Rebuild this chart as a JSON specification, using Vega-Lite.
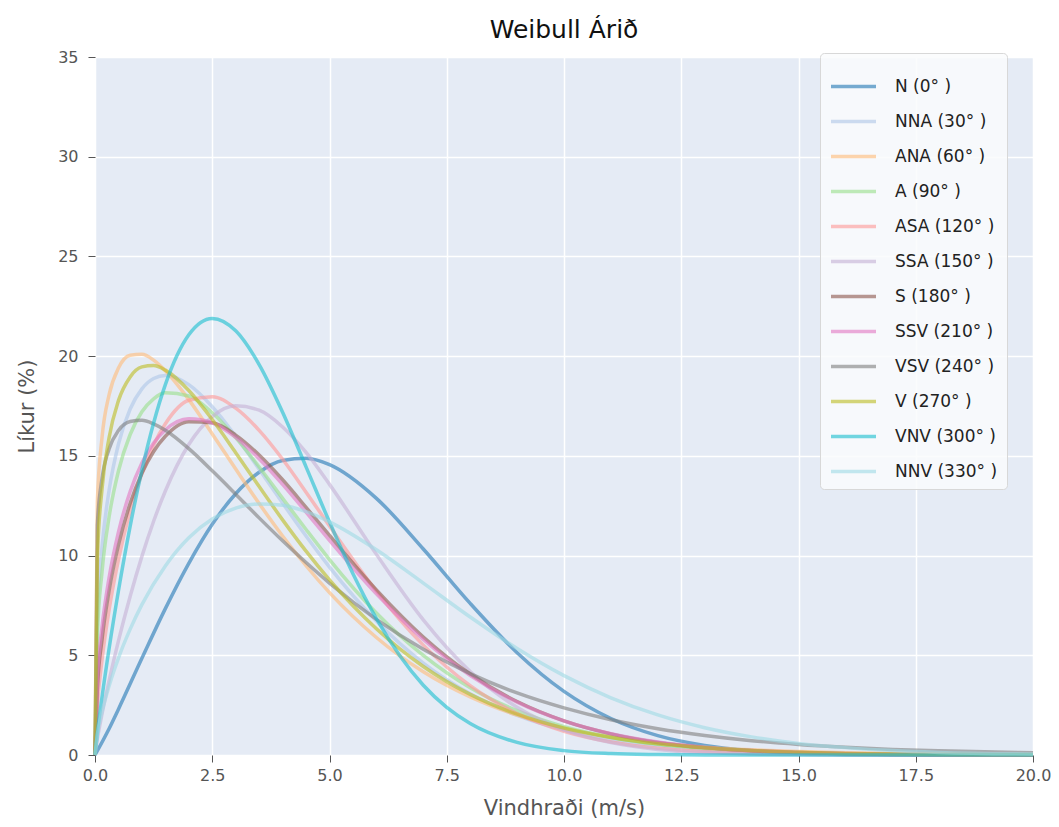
{
  "$schema": "https://vega.github.io/schema/vega-lite/v6.json",
  "width": 938,
  "height": 698,
  "autosize": {"type": "none"},
  "padding": {"left": 95, "top": 57, "right": 26, "bottom": 72},
  "background": "white",
  "title": {"text": "Weibull Árið", "fontSize": 25, "font": "DejaVu Sans", "fontWeight": "normal", "color": "#111", "anchor": "middle", "offset": 6},
  "data": {"values": [
    {"d":"N (0° )","x":0,"y":0},{"d":"N (0° )","x":0.3,"y":1.32},{"d":"N (0° )","x":0.5,"y":2.30},{"d":"N (0° )","x":1,"y":4.85},{"d":"N (0° )","x":1.5,"y":7.34},{"d":"N (0° )","x":2,"y":9.61},{"d":"N (0° )","x":2.5,"y":11.57},{"d":"N (0° )","x":3,"y":13.10},{"d":"N (0° )","x":3.5,"y":14.18},{"d":"N (0° )","x":4,"y":14.77},{"d":"N (0° )","x":4.5,"y":14.88},{"d":"N (0° )","x":5,"y":14.56},{"d":"N (0° )","x":6,"y":12.87},{"d":"N (0° )","x":7,"y":10.33},{"d":"N (0° )","x":8,"y":7.60},{"d":"N (0° )","x":9,"y":5.13},{"d":"N (0° )","x":10,"y":3.19},{"d":"N (0° )","x":11,"y":1.83},{"d":"N (0° )","x":12,"y":0.97},{"d":"N (0° )","x":13,"y":0.48},{"d":"N (0° )","x":14,"y":0.22},{"d":"N (0° )","x":15,"y":0.09},{"d":"N (0° )","x":16,"y":0.03},{"d":"N (0° )","x":18,"y":0.0},{"d":"N (0° )","x":20,"y":0.0},
    {"d":"NNA (30° )","x":0,"y":0},{"d":"NNA (30° )","x":0.05,"y":6.96},{"d":"NNA (30° )","x":0.15,"y":10.42},{"d":"NNA (30° )","x":0.3,"y":13.26},{"d":"NNA (30° )","x":0.5,"y":15.59},{"d":"NNA (30° )","x":0.75,"y":17.35},{"d":"NNA (30° )","x":1,"y":18.36},{"d":"NNA (30° )","x":1.25,"y":18.88},{"d":"NNA (30° )","x":1.5,"y":19.03},{"d":"NNA (30° )","x":2,"y":18.57},{"d":"NNA (30° )","x":2.5,"y":17.46},{"d":"NNA (30° )","x":3,"y":15.98},{"d":"NNA (30° )","x":3.5,"y":14.33},{"d":"NNA (30° )","x":4,"y":12.63},{"d":"NNA (30° )","x":4.5,"y":10.98},{"d":"NNA (30° )","x":5,"y":9.42},{"d":"NNA (30° )","x":6,"y":6.72},{"d":"NNA (30° )","x":7,"y":4.61},{"d":"NNA (30° )","x":8,"y":3.07},{"d":"NNA (30° )","x":9,"y":1.99},{"d":"NNA (30° )","x":10,"y":1.26},{"d":"NNA (30° )","x":11,"y":0.78},{"d":"NNA (30° )","x":12,"y":0.47},{"d":"NNA (30° )","x":13,"y":0.28},{"d":"NNA (30° )","x":14,"y":0.16},{"d":"NNA (30° )","x":15,"y":0.09},{"d":"NNA (30° )","x":16,"y":0.05},{"d":"NNA (30° )","x":17,"y":0.03},{"d":"NNA (30° )","x":18,"y":0.015},{"d":"NNA (30° )","x":20,"y":0.005},
    {"d":"ANA (60° )","x":0,"y":0},{"d":"ANA (60° )","x":0.05,"y":12.70},{"d":"ANA (60° )","x":0.15,"y":15.93},{"d":"ANA (60° )","x":0.3,"y":18.06},{"d":"ANA (60° )","x":0.5,"y":19.40},{"d":"ANA (60° )","x":0.75,"y":20.04},{"d":"ANA (60° )","x":1,"y":20.09},{"d":"ANA (60° )","x":1.25,"y":19.80},{"d":"ANA (60° )","x":1.5,"y":19.27},{"d":"ANA (60° )","x":2,"y":17.82},{"d":"ANA (60° )","x":2.5,"y":16.10},{"d":"ANA (60° )","x":3,"y":14.34},{"d":"ANA (60° )","x":3.5,"y":12.61},{"d":"ANA (60° )","x":4,"y":10.98},{"d":"ANA (60° )","x":4.5,"y":9.49},{"d":"ANA (60° )","x":5,"y":8.14},{"d":"ANA (60° )","x":6,"y":5.89},{"d":"ANA (60° )","x":7,"y":4.17},{"d":"ANA (60° )","x":8,"y":2.91},{"d":"ANA (60° )","x":9,"y":2.00},{"d":"ANA (60° )","x":10,"y":1.36},{"d":"ANA (60° )","x":11,"y":0.91},{"d":"ANA (60° )","x":12,"y":0.60},{"d":"ANA (60° )","x":13,"y":0.39},{"d":"ANA (60° )","x":14,"y":0.26},{"d":"ANA (60° )","x":15,"y":0.17},{"d":"ANA (60° )","x":16,"y":0.11},{"d":"ANA (60° )","x":17,"y":0.07},{"d":"ANA (60° )","x":18,"y":0.04},{"d":"ANA (60° )","x":20,"y":0.02},
    {"d":"A (90° )","x":0,"y":0},{"d":"A (90° )","x":0.05,"y":5.97},{"d":"A (90° )","x":0.15,"y":9.19},{"d":"A (90° )","x":0.3,"y":11.93},{"d":"A (90° )","x":0.5,"y":14.24},{"d":"A (90° )","x":0.75,"y":16.07},{"d":"A (90° )","x":1,"y":17.21},{"d":"A (90° )","x":1.25,"y":17.86},{"d":"A (90° )","x":1.5,"y":18.16},{"d":"A (90° )","x":2,"y":18.00},{"d":"A (90° )","x":2.5,"y":17.16},{"d":"A (90° )","x":3,"y":15.91},{"d":"A (90° )","x":3.5,"y":14.44},{"d":"A (90° )","x":4,"y":12.87},{"d":"A (90° )","x":4.5,"y":11.31},{"d":"A (90° )","x":5,"y":9.80},{"d":"A (90° )","x":6,"y":7.12},{"d":"A (90° )","x":7,"y":4.99},{"d":"A (90° )","x":8,"y":3.37},{"d":"A (90° )","x":9,"y":2.22},{"d":"A (90° )","x":10,"y":1.42},{"d":"A (90° )","x":11,"y":0.89},{"d":"A (90° )","x":12,"y":0.54},{"d":"A (90° )","x":13,"y":0.33},{"d":"A (90° )","x":14,"y":0.19},{"d":"A (90° )","x":15,"y":0.11},{"d":"A (90° )","x":16,"y":0.06},{"d":"A (90° )","x":17,"y":0.035},{"d":"A (90° )","x":18,"y":0.02},{"d":"A (90° )","x":20,"y":0.005},
    {"d":"ASA (120° )","x":0,"y":0},{"d":"ASA (120° )","x":0.05,"y":2.42},{"d":"ASA (120° )","x":0.15,"y":4.77},{"d":"ASA (120° )","x":0.3,"y":7.27},{"d":"ASA (120° )","x":0.5,"y":9.80},{"d":"ASA (120° )","x":0.75,"y":12.24},{"d":"ASA (120° )","x":1,"y":14.12},{"d":"ASA (120° )","x":1.25,"y":15.55},{"d":"ASA (120° )","x":1.5,"y":16.61},{"d":"ASA (120° )","x":2,"y":17.79},{"d":"ASA (120° )","x":2.5,"y":17.97},{"d":"ASA (120° )","x":3,"y":17.39},{"d":"ASA (120° )","x":3.5,"y":16.28},{"d":"ASA (120° )","x":4,"y":14.83},{"d":"ASA (120° )","x":4.5,"y":13.18},{"d":"ASA (120° )","x":5,"y":11.48},{"d":"ASA (120° )","x":6,"y":8.22},{"d":"ASA (120° )","x":7,"y":5.51},{"d":"ASA (120° )","x":8,"y":3.48},{"d":"ASA (120° )","x":9,"y":2.08},{"d":"ASA (120° )","x":10,"y":1.19},{"d":"ASA (120° )","x":11,"y":0.65},{"d":"ASA (120° )","x":12,"y":0.34},{"d":"ASA (120° )","x":13,"y":0.17},{"d":"ASA (120° )","x":14,"y":0.08},{"d":"ASA (120° )","x":15,"y":0.04},{"d":"ASA (120° )","x":16,"y":0.02},{"d":"ASA (120° )","x":18,"y":0},{"d":"ASA (120° )","x":20,"y":0},
    {"d":"SSA (150° )","x":0,"y":0},{"d":"SSA (150° )","x":0.05,"y":0.80},{"d":"SSA (150° )","x":0.15,"y":2.06},{"d":"SSA (150° )","x":0.3,"y":3.72},{"d":"SSA (150° )","x":0.5,"y":5.72},{"d":"SSA (150° )","x":0.75,"y":7.96},{"d":"SSA (150° )","x":1,"y":9.96},{"d":"SSA (150° )","x":1.25,"y":11.72},{"d":"SSA (150° )","x":1.5,"y":13.24},{"d":"SSA (150° )","x":2,"y":15.57},{"d":"SSA (150° )","x":2.5,"y":16.97},{"d":"SSA (150° )","x":3,"y":17.51},{"d":"SSA (150° )","x":3.5,"y":17.29},{"d":"SSA (150° )","x":4,"y":16.45},{"d":"SSA (150° )","x":4.5,"y":15.17},{"d":"SSA (150° )","x":5,"y":13.57},{"d":"SSA (150° )","x":6,"y":10.06},{"d":"SSA (150° )","x":7,"y":6.78},{"d":"SSA (150° )","x":8,"y":4.19},{"d":"SSA (150° )","x":9,"y":2.39},{"d":"SSA (150° )","x":10,"y":1.26},{"d":"SSA (150° )","x":11,"y":0.62},{"d":"SSA (150° )","x":12,"y":0.28},{"d":"SSA (150° )","x":13,"y":0.12},{"d":"SSA (150° )","x":14,"y":0.05},{"d":"SSA (150° )","x":15,"y":0.02},{"d":"SSA (150° )","x":16,"y":0},{"d":"SSA (150° )","x":20,"y":0},
    {"d":"S (180° )","x":0,"y":0},{"d":"S (180° )","x":0.05,"y":3.30},{"d":"S (180° )","x":0.15,"y":5.80},{"d":"S (180° )","x":0.3,"y":8.24},{"d":"S (180° )","x":0.5,"y":10.54},{"d":"S (180° )","x":0.75,"y":12.62},{"d":"S (180° )","x":1,"y":14.13},{"d":"S (180° )","x":1.25,"y":15.22},{"d":"S (180° )","x":1.5,"y":15.98},{"d":"S (180° )","x":2,"y":16.71},{"d":"S (180° )","x":2.5,"y":16.66},{"d":"S (180° )","x":3,"y":16.04},{"d":"S (180° )","x":3.5,"y":15.04},{"d":"S (180° )","x":4,"y":13.80},{"d":"S (180° )","x":4.5,"y":12.42},{"d":"S (180° )","x":5,"y":11.01},{"d":"S (180° )","x":6,"y":8.28},{"d":"S (180° )","x":7,"y":5.92},{"d":"S (180° )","x":8,"y":4.06},{"d":"S (180° )","x":9,"y":2.68},{"d":"S (180° )","x":10,"y":1.71},{"d":"S (180° )","x":11,"y":1.06},{"d":"S (180° )","x":12,"y":0.63},{"d":"S (180° )","x":13,"y":0.37},{"d":"S (180° )","x":14,"y":0.21},{"d":"S (180° )","x":15,"y":0.12},{"d":"S (180° )","x":16,"y":0.06},{"d":"S (180° )","x":17,"y":0.03},{"d":"S (180° )","x":18,"y":0.015},{"d":"S (180° )","x":20,"y":0},
    {"d":"SSV (210° )","x":0,"y":0},{"d":"SSV (210° )","x":0.05,"y":3.76},{"d":"SSV (210° )","x":0.15,"y":6.41},{"d":"SSV (210° )","x":0.3,"y":8.89},{"d":"SSV (210° )","x":0.5,"y":11.18},{"d":"SSV (210° )","x":0.75,"y":13.21},{"d":"SSV (210° )","x":1,"y":14.64},{"d":"SSV (210° )","x":1.25,"y":15.64},{"d":"SSV (210° )","x":1.5,"y":16.30},{"d":"SSV (210° )","x":2,"y":16.86},{"d":"SSV (210° )","x":2.5,"y":16.66},{"d":"SSV (210° )","x":3,"y":15.93},{"d":"SSV (210° )","x":3.5,"y":14.86},{"d":"SSV (210° )","x":4,"y":13.57},{"d":"SSV (210° )","x":4.5,"y":12.18},{"d":"SSV (210° )","x":5,"y":10.76},{"d":"SSV (210° )","x":6,"y":8.08},{"d":"SSV (210° )","x":7,"y":5.79},{"d":"SSV (210° )","x":8,"y":3.99},{"d":"SSV (210° )","x":9,"y":2.65},{"d":"SSV (210° )","x":10,"y":1.71},{"d":"SSV (210° )","x":11,"y":1.07},{"d":"SSV (210° )","x":12,"y":0.65},{"d":"SSV (210° )","x":13,"y":0.38},{"d":"SSV (210° )","x":14,"y":0.22},{"d":"SSV (210° )","x":15,"y":0.13},{"d":"SSV (210° )","x":16,"y":0.07},{"d":"SSV (210° )","x":17,"y":0.04},{"d":"SSV (210° )","x":18,"y":0.02},{"d":"SSV (210° )","x":20,"y":0},
    {"d":"VSV (240° )","x":0,"y":0},{"d":"VSV (240° )","x":0.05,"y":11.52},{"d":"VSV (240° )","x":0.15,"y":13.86},{"d":"VSV (240° )","x":0.3,"y":15.35},{"d":"VSV (240° )","x":0.5,"y":16.27},{"d":"VSV (240° )","x":0.75,"y":16.72},{"d":"VSV (240° )","x":1,"y":16.78},{"d":"VSV (240° )","x":1.25,"y":16.60},{"d":"VSV (240° )","x":1.5,"y":16.28},{"d":"VSV (240° )","x":2,"y":15.36},{"d":"VSV (240° )","x":2.5,"y":14.25},{"d":"VSV (240° )","x":3,"y":13.08},{"d":"VSV (240° )","x":3.5,"y":11.89},{"d":"VSV (240° )","x":4,"y":10.74},{"d":"VSV (240° )","x":4.5,"y":9.65},{"d":"VSV (240° )","x":5,"y":8.62},{"d":"VSV (240° )","x":6,"y":6.80},{"d":"VSV (240° )","x":7,"y":5.30},{"d":"VSV (240° )","x":8,"y":4.08},{"d":"VSV (240° )","x":9,"y":3.11},{"d":"VSV (240° )","x":10,"y":2.36},{"d":"VSV (240° )","x":11,"y":1.77},{"d":"VSV (240° )","x":12,"y":1.32},{"d":"VSV (240° )","x":13,"y":0.98},{"d":"VSV (240° )","x":14,"y":0.72},{"d":"VSV (240° )","x":15,"y":0.53},{"d":"VSV (240° )","x":16,"y":0.39},{"d":"VSV (240° )","x":17,"y":0.28},{"d":"VSV (240° )","x":18,"y":0.21},{"d":"VSV (240° )","x":20,"y":0.11},
    {"d":"V (270° )","x":0,"y":0},{"d":"V (270° )","x":0.05,"y":9.87},{"d":"V (270° )","x":0.15,"y":13.35},{"d":"V (270° )","x":0.3,"y":15.91},{"d":"V (270° )","x":0.5,"y":17.77},{"d":"V (270° )","x":0.75,"y":18.96},{"d":"V (270° )","x":1,"y":19.46},{"d":"V (270° )","x":1.25,"y":19.53},{"d":"V (270° )","x":1.5,"y":19.30},{"d":"V (270° )","x":2,"y":18.28},{"d":"V (270° )","x":2.5,"y":16.82},{"d":"V (270° )","x":3,"y":15.16},{"d":"V (270° )","x":3.5,"y":13.46},{"d":"V (270° )","x":4,"y":11.79},{"d":"V (270° )","x":4.5,"y":10.22},{"d":"V (270° )","x":5,"y":8.78},{"d":"V (270° )","x":6,"y":6.33},{"d":"V (270° )","x":7,"y":4.44},{"d":"V (270° )","x":8,"y":3.04},{"d":"V (270° )","x":9,"y":2.05},{"d":"V (270° )","x":10,"y":1.35},{"d":"V (270° )","x":11,"y":0.88},{"d":"V (270° )","x":12,"y":0.56},{"d":"V (270° )","x":13,"y":0.36},{"d":"V (270° )","x":14,"y":0.22},{"d":"V (270° )","x":15,"y":0.14},{"d":"V (270° )","x":16,"y":0.08},{"d":"V (270° )","x":17,"y":0.05},{"d":"V (270° )","x":18,"y":0.03},{"d":"V (270° )","x":20,"y":0.01},
    {"d":"VNV (300° )","x":0,"y":0},{"d":"VNV (300° )","x":0.05,"y":1.11},{"d":"VNV (300° )","x":0.15,"y":2.91},{"d":"VNV (300° )","x":0.3,"y":5.33},{"d":"VNV (300° )","x":0.5,"y":8.24},{"d":"VNV (300° )","x":0.75,"y":11.48},{"d":"VNV (300° )","x":1,"y":14.28},{"d":"VNV (300° )","x":1.25,"y":16.65},{"d":"VNV (300° )","x":1.5,"y":18.57},{"d":"VNV (300° )","x":2,"y":21.07},{"d":"VNV (300° )","x":2.5,"y":21.89},{"d":"VNV (300° )","x":3,"y":21.27},{"d":"VNV (300° )","x":3.5,"y":19.58},{"d":"VNV (300° )","x":4,"y":17.19},{"d":"VNV (300° )","x":4.5,"y":14.45},{"d":"VNV (300° )","x":5,"y":11.68},{"d":"VNV (300° )","x":5.5,"y":9.09},{"d":"VNV (300° )","x":6,"y":6.84},{"d":"VNV (300° )","x":6.5,"y":4.98},{"d":"VNV (300° )","x":7,"y":3.50},{"d":"VNV (300° )","x":7.5,"y":2.39},{"d":"VNV (300° )","x":8,"y":1.58},{"d":"VNV (300° )","x":9,"y":0.63},{"d":"VNV (300° )","x":10,"y":0.22},{"d":"VNV (300° )","x":11,"y":0.07},{"d":"VNV (300° )","x":12,"y":0.02},{"d":"VNV (300° )","x":13,"y":0},{"d":"VNV (300° )","x":20,"y":0},
    {"d":"NNV (330° )","x":0,"y":0},{"d":"NNV (330° )","x":0.05,"y":1.03},{"d":"NNV (330° )","x":0.15,"y":2.17},{"d":"NNV (330° )","x":0.3,"y":3.46},{"d":"NNV (330° )","x":0.5,"y":4.86},{"d":"NNV (330° )","x":0.75,"y":6.31},{"d":"NNV (330° )","x":1,"y":7.54},{"d":"NNV (330° )","x":1.5,"y":9.48},{"d":"NNV (330° )","x":2,"y":10.89},{"d":"NNV (330° )","x":2.5,"y":11.83},{"d":"NNV (330° )","x":3,"y":12.38},{"d":"NNV (330° )","x":3.5,"y":12.59},{"d":"NNV (330° )","x":4,"y":12.52},{"d":"NNV (330° )","x":4.5,"y":12.20},{"d":"NNV (330° )","x":5,"y":11.69},{"d":"NNV (330° )","x":6,"y":10.29},{"d":"NNV (330° )","x":7,"y":8.62},{"d":"NNV (330° )","x":8,"y":6.92},{"d":"NNV (330° )","x":9,"y":5.34},{"d":"NNV (330° )","x":10,"y":3.98},{"d":"NNV (330° )","x":11,"y":2.87},{"d":"NNV (330° )","x":12,"y":2.01},{"d":"NNV (330° )","x":13,"y":1.37},{"d":"NNV (330° )","x":14,"y":0.91},{"d":"NNV (330° )","x":15,"y":0.58},{"d":"NNV (330° )","x":16,"y":0.37},{"d":"NNV (330° )","x":17,"y":0.22},{"d":"NNV (330° )","x":18,"y":0.13},{"d":"NNV (330° )","x":20,"y":0.05}
  ]},
  "mark": {"type": "line", "interpolate": "monotone", "strokeWidth": 3.5, "opacity": 0.6},
  "encoding": {
    "x": {"field": "x", "type": "quantitative", "title": "Vindhraði (m/s)",
      "scale": {"domain": [0, 20], "nice": false},
      "axis": {"values": [0, 2.5, 5, 7.5, 10, 12.5, 15, 17.5, 20], "format": ".1f", "titlePadding": 14, "labelPadding": 5, "labelFlush": false}},
    "y": {"field": "y", "type": "quantitative", "title": "Líkur (%)",
      "scale": {"domain": [0, 35], "nice": false},
      "axis": {"values": [0, 5, 10, 15, 20, 25, 30, 35], "format": "d", "titlePadding": 20, "labelPadding": 10, "labelFlush": false}},
    "color": {"field": "d", "type": "nominal",
      "scale": {
        "domain": ["N (0° )", "NNA (30° )", "ANA (60° )", "A (90° )", "ASA (120° )", "SSA (150° )", "S (180° )", "SSV (210° )", "VSV (240° )", "V (270° )", "VNV (300° )", "NNV (330° )"],
        "range": ["#1f77b4", "#aec7e8", "#ffbb78", "#98df8a", "#ff9896", "#c5b0d5", "#8c564b", "#e377c2", "#7f7f7f", "#bcbd22", "#17becf", "#9edae5"]},
      "legend": {"title": null, "orient": "none", "legendX": 725, "legendY": -4,
        "symbolType": "stroke", "symbolSize": 2025, "symbolStrokeWidth": 3.5, "symbolOpacity": 0.6,
        "labelFontSize": 17, "labelColor": "#222", "labelFont": "DejaVu Sans", "labelOffset": 17,
        "rowPadding": 2, "padding": 9, "fillColor": "rgba(250,251,253,0.85)", "strokeColor": "#d8d8d8", "cornerRadius": 4}}
  },
  "config": {
    "font": "DejaVu Sans",
    "view": {"fill": "#e5ebf5", "stroke": null},
    "axis": {"grid": true, "gridColor": "#ffffff", "gridWidth": 1.5, "domain": false,
      "tickColor": "#555555", "tickSize": 7, "tickWidth": 1,
      "labelColor": "#555555", "labelFontSize": 16, "labelFont": "DejaVu Sans",
      "titleColor": "#555555", "titleFontSize": 21, "titleFontWeight": "normal", "titleFont": "DejaVu Sans"}
  }
}
